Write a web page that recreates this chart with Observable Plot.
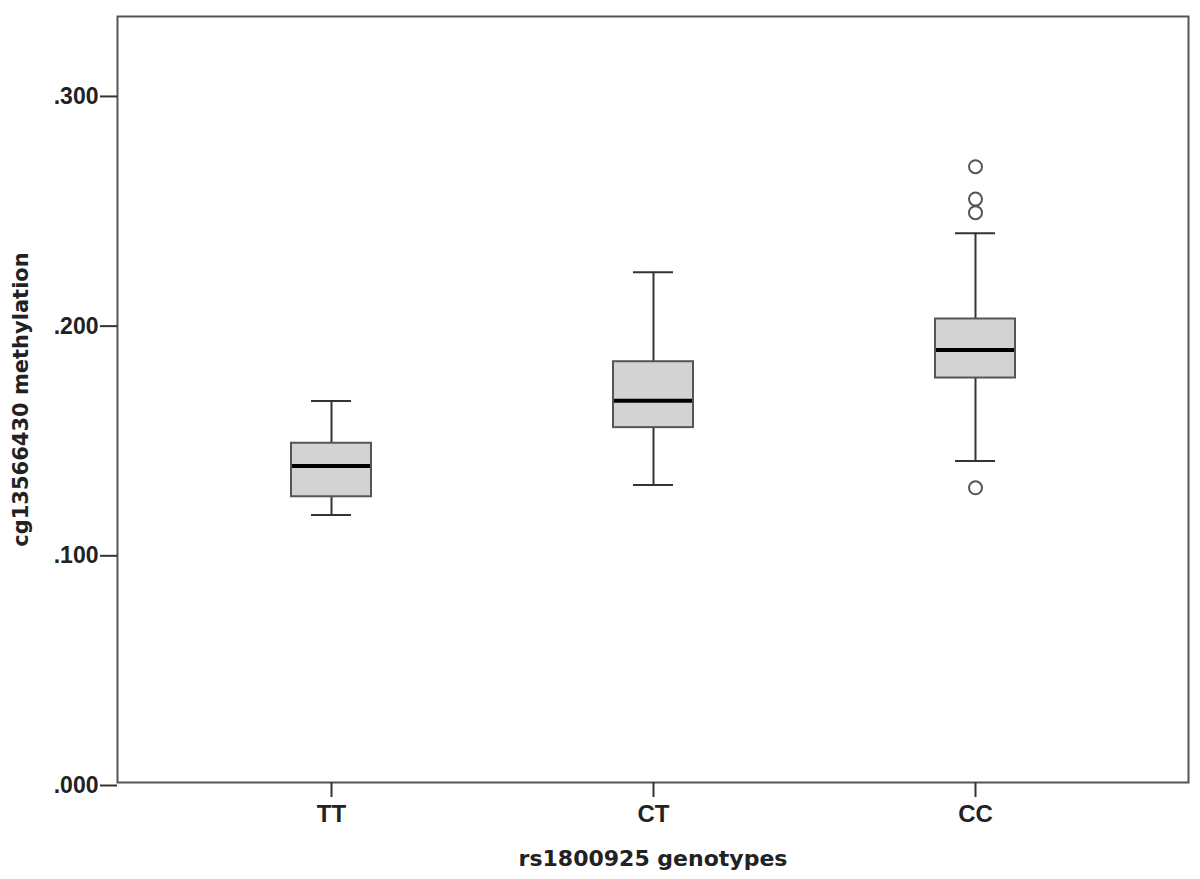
<!DOCTYPE html>
<html><head><meta charset="utf-8">
<script src="https://cdn.jsdelivr.net/npm/d3@7"></script>
<script src="https://cdn.jsdelivr.net/npm/@observablehq/plot@0.6"></script>
<style>body{margin:0;background:#fff}</style>
</head><body><div id="chart"></div>
<script>
const genotypes = ["TT", "CT", "CC"];
const whiskerLow = [0.1165, 0.1295, 0.1400];
const q1 = [0.1244, 0.1545, 0.1761];
const median = [0.1378, 0.1662, 0.1883];
const q3 = [0.1477, 0.1832, 0.2018];
const whiskerHigh = [0.1661, 0.2221, 0.2391];
const outlierGenotype = ["CC", "CC", "CC", "CC"];
const outlierValue = [0.2681, 0.2540, 0.2481, 0.1283];
const yTicks = [0, 0.1, 0.2, 0.3];
const yTickLabels = [".000", ".100", ".200", ".300"];
const xLabel = "rs1800925 genotypes";
const yLabel = "cg13566430 methylation";

const boxes = genotypes.map((g, i) => ({g, lo: whiskerLow[i], q1: q1[i], med: median[i], q3: q3[i], hi: whiskerHigh[i]}));
const outliers = outlierValue.map((v, i) => ({g: outlierGenotype[i], v}));

const labelFont = "'DejaVu Sans', Verdana, sans-serif";
const tickFont = "'Liberation Sans', Arial, sans-serif";

const plot = Plot.plot({
  width: 1200, height: 879,
  marginLeft: 117, marginRight: 12, marginTop: 16, marginBottom: 97,
  style: {fontFamily: tickFont, fontWeight: "bold", fontSize: "23px", color: "#222", background: "#fff"},
  x: {type: "band", domain: genotypes, paddingInner: 0.752, paddingOuter: 0.534, label: null},
  y: {domain: [0, 0.3335], label: null},
  marks: [
    Plot.ruleX(boxes, {x: "g", y1: "lo", y2: "q1", stroke: "#333", strokeWidth: 2}),
    Plot.ruleX(boxes, {x: "g", y1: "q3", y2: "hi", stroke: "#333", strokeWidth: 2}),
    Plot.tickY(boxes, {x: "g", y: "lo", insetLeft: 20, insetRight: 20, stroke: "#333", strokeWidth: 2}),
    Plot.tickY(boxes, {x: "g", y: "hi", insetLeft: 20, insetRight: 20, stroke: "#333", strokeWidth: 2}),
    Plot.barY(boxes, {x: "g", y1: "q1", y2: "q3", fill: "#d3d3d3", stroke: "#555", strokeWidth: 2}),
    Plot.tickY(boxes, {x: "g", y: "med", stroke: "#000", strokeWidth: 4, insetLeft: 1, insetRight: 1}),
    Plot.dot(outliers, {x: "g", y: "v", r: 6.5, stroke: "#555", strokeWidth: 2, fill: "#fff"}),
    Plot.frame({stroke: "#555", strokeWidth: 2}),
    Plot.axisY({ticks: yTicks, label: null, tickSize: 17, tickPadding: 2, dy: 3, fontSize: 23,
      fontFamily: tickFont, fontWeight: "bold",
      tickFormat: d => yTickLabels[yTicks.indexOf(d)], stroke: "#333", strokeWidth: 2, fill: "#222"}),
    Plot.axisX({label: null, tickSize: 15, tickPadding: 7, fontSize: 24, fontFamily: tickFont, fontWeight: "bold",
      stroke: "#333", strokeWidth: 2, fill: "#222"}),
    Plot.text([yLabel], {text: d => d, frameAnchor: "left", dx: -96, rotate: -90,
      textAnchor: "middle", lineAnchor: "middle",
      fontFamily: labelFont, fontWeight: "bold", fontSize: 21, fill: "#222"}),
    Plot.text([xLabel], {text: d => d, frameAnchor: "bottom", dy: 76,
      textAnchor: "middle", lineAnchor: "middle",
      fontFamily: labelFont, fontWeight: "bold", fontSize: 22, fill: "#222", letterSpacing: 2})
  ]
});
document.getElementById("chart").appendChild(plot);
</script>
</body></html>
